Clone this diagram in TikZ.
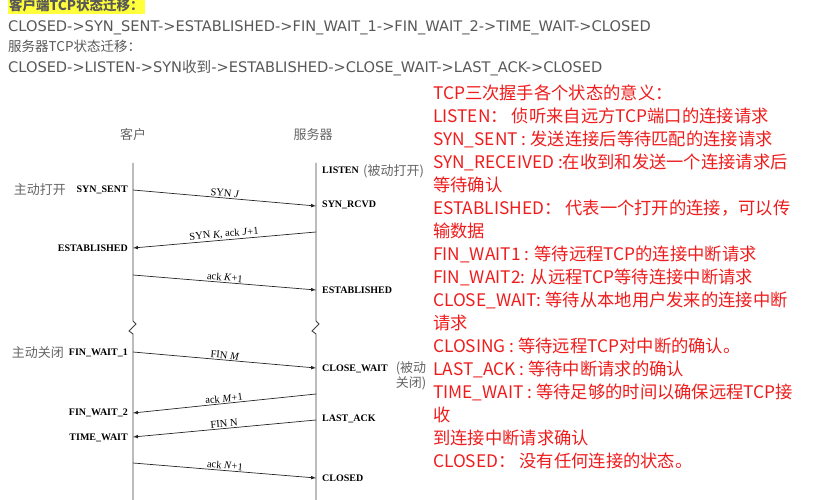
\documentclass[tikz,border=0pt]{standalone}
\usepackage{fontspec}
\setmainfont{Liberation Serif}
\newfontfamily\cjk{Noto Sans CJK SC}
\newfontfamily\websans{DejaVu Sans}
\usetikzlibrary{positioning}
\tikzset{>=latex}
\definecolor{pathgray}{RGB}{88,88,88}
\definecolor{marker}{RGB}{255,255,60}
\definecolor{notered}{RGB}{238,28,28}
\definecolor{inkgray}{RGB}{100,100,100}

\begin{document}
\begin{tikzpicture}[x=1pt,y=-1pt]

        \useasboundingbox (0,0) rectangle (815,500);

        % Setup the styles for the texts and the lines
        \tikzset{path text/.style={anchor=base west, inner sep=0pt,
                                   text=pathgray,
                                   font=\websans\fontsize{14.6}{16}\selectfont},
                 path title/.style={anchor=base west, inner sep=0pt,
                                    text=pathgray,
                                    font=\cjk\fontsize{13.5}{16}\selectfont},
                 note line/.style={anchor=base west, inner sep=0pt,
                                   text=notered,
                                   font=\cjk\fontsize{17.3}{20}\selectfont},
                 role text/.style={inner sep=0pt, text=inkgray,
                                   font=\cjk\fontsize{13}{15}\selectfont},
                 client state/.style={anchor=base east, inner sep=0pt,
                                      font=\bfseries\fontsize{10}{12}\selectfont},
                 server state/.style={anchor=base west, inner sep=0pt,
                                      font=\bfseries\fontsize{10}{12}\selectfont},
                 lifeline/.style={line width=0.9pt, draw=black!75},
                 segment/.style={->, line width=0.7pt, draw=black!85},
                 segment label/.style={sloped, above=1pt, inner sep=0pt,
                                       font=\fontsize{10.5}{12}\selectfont}}

        % Draw the state paths
        \node[path title, fill=marker, inner xsep=1pt, inner ysep=1.5pt] at (8,11) (ctitle)
            {\bfseries 客户端TCP状态迁移：};
        \node[path text] at (8,32) (cpath)
            {CLOSED->SYN\_SENT->ESTABLISHED->FIN\_WAIT\_1->FIN\_WAIT\_2->TIME\_WAIT->CLOSED};
        \node[path title] at (8,52) (stitle) {服务器TCP状态迁移：};
        \node[path text] at (8,73) (spath)
            {CLOSED->LISTEN->SYN{\cjk 收到}->ESTABLISHED->CLOSE\_WAIT->LAST\_ACK->CLOSED};

        % Draw the notes
        \foreach \line [count=\i] in {TCP三次握手各个状态的意义：,
                LISTEN： 侦听来自远方TCP端口的连接请求,
                SYN\_SENT : 发送连接后等待匹配的连接请求,
                SYN\_RECEIVED :在收到和发送一个连接请求后,
                等待确认,
                ESTABLISHED： 代表一个打开的连接，可以传,
                输数据,
                FIN\_WAIT1 : 等待远程TCP的连接中断请求,
                FIN\_WAIT2: 从远程TCP等待连接中断请求,
                CLOSE\_WAIT: 等待从本地用户发来的连接中断,
                请求,
                CLOSING : 等待远程TCP对中断的确认。,
                LAST\_ACK : 等待中断请求的确认,
                TIME\_WAIT : 等待足够的时间以确保远程TCP接,
                收,
                到连接中断请求确认,
                CLOSED： 没有任何连接的状态。}
            \node[note line] at (433,{76.5+23*\i}) (note\i) {\line};

        % Draw the two sides
        \node[role text] at (133,135) (client) {客户};
        \node[role text] at (313,135) (server) {服务器};
        \coordinate (ctop) at (133,163);
        \coordinate (cbot) at (133,500);
        \coordinate (stop) at (316,163);
        \coordinate (sbot) at (316,500);
        \draw[lifeline] (ctop) -- ++(0,158) -- ++(3,3) -- ++(-7,7) -- ++(4,3) -- (cbot);
        \draw[lifeline] (stop) -- ++(0,158) -- ++(3,3) -- ++(-7,7) -- ++(4,3) -- (sbot);

        % Draw the states
        \node[role text, anchor=east] at (66,190) (aopen) {主动打开};
        \node[client state] at (128,193) (csent) {SYN\_SENT};
        \node[client state] at (128,251.5) (cest) {ESTABLISHED};
        \node[role text, anchor=east] at (64,353) (aclose) {主动关闭};
        \node[client state] at (128,355.5) (cfw1) {FIN\_WAIT\_1};
        \node[client state] at (128,415.5) (cfw2) {FIN\_WAIT\_2};
        \node[client state] at (128,440.5) (ctw) {TIME\_WAIT};
        \node[server state] at (322,173.5) (slisten) {LISTEN};
        \node[role text, anchor=west] at (363,171) (popen) {(被动打开)};
        \node[server state] at (322,207.5) (srcvd) {SYN\_RCVD};
        \node[server state] at (322,293.5) (sest) {ESTABLISHED};
        \node[server state] at (322,371.5) (scw) {CLOSE\_WAIT};
        \node[role text, align=center] at (411,376) (pclose) {(被动\\关闭)};
        \node[server state] at (322,421.5) (sla) {LAST\_ACK};
        \node[server state] at (322,481.5) (sclosed) {CLOSED};

        % Connect the two sides with arrows
        \coordinate (syn1)  at (133,190);  \coordinate (syn2)  at (316,206);
        \coordinate (sack1) at (316,232);  \coordinate (sack2) at (133,248);
        \coordinate (ack1)  at (133,275);  \coordinate (ack2)  at (316,290);
        \coordinate (fin1)  at (133,352);  \coordinate (fin2)  at (316,368);
        \coordinate (fack1) at (316,394);  \coordinate (fack2) at (133,413);
        \coordinate (finn1) at (316,420);  \coordinate (finn2) at (133,437);
        \coordinate (last1) at (133,463);  \coordinate (last2) at (316,478);
        \draw[segment] (syn1) -- node[segment label] {SYN \textit{J}} (syn2);
        \draw[segment] (sack1) -- node[segment label] {SYN \textit{K}, ack \textit{J}+1} (sack2);
        \draw[segment] (ack1) -- node[segment label] {ack \textit{K}+1} (ack2);
        \draw[segment] (fin1) -- node[segment label] {FIN \textit{M}} (fin2);
        \draw[segment] (fack1) -- node[segment label] {ack \textit{M}+1} (fack2);
        \draw[segment] (finn1) -- node[segment label] {FIN N} (finn2);
        \draw[segment] (last1) -- node[segment label] {ack \textit{N}+1} (last2);
\end{tikzpicture}
\end{document}
